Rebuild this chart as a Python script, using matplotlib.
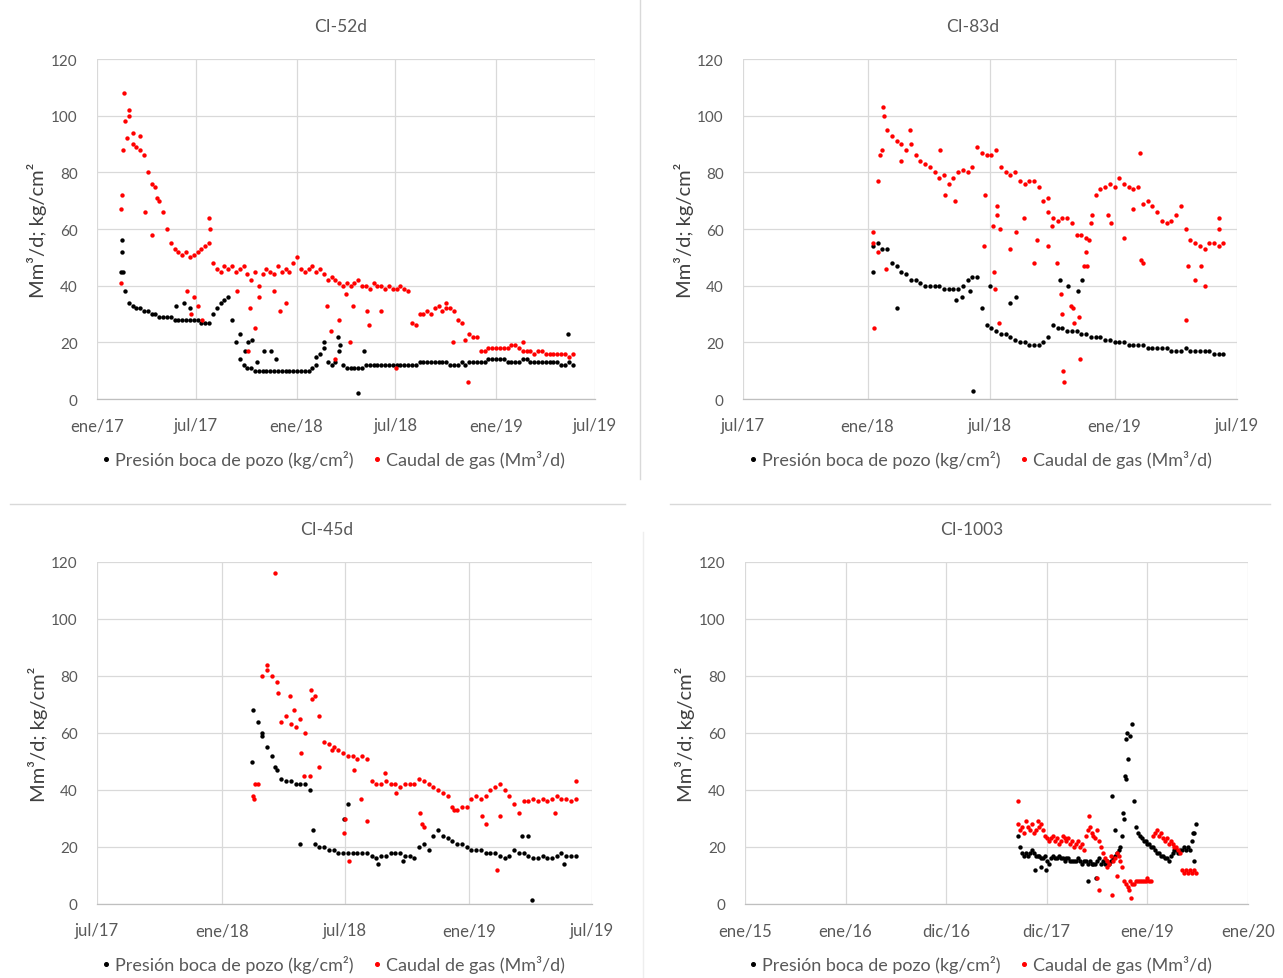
import matplotlib.pyplot as plt
from matplotlib.lines import Line2D
import pandas as pd

plt.rcParams['font.family'] = ['Lato', 'DejaVu Sans']

# ---------------------------------------------------------------
# data: weekly readings + scattered odd days
# ---------------------------------------------------------------

# CI-52d, weekly from 2017-02-14
ci52_start = '2017-02-14'
ci52_pres = [45, 38, 34, 33, 32, 32, 31, 31, 30, 30, 29, 29, 29, 29, 28, 28,
             28, 28, 28, 28, 28, 27, 27, 27, 30, 32, 34, 35, 36, 28, 20, 14,
             12, 11, 11, 10, 10, 10, 10, 10, 10, 10, 10, 10, 10, 10, 10, 10,
             10, 10, 11, 12, 16, 18, 13, 12, 13, 17, 12, 11, 11, 11, 11, 11,
             12, 12, 12, 12, 12, 12, 12, 12, 12, 12, 12, 12, 12, 12, 13, 13,
             13, 13, 13, 13, 13, 13, 12, 12, 12, 13, 12, 13, 13, 13, 13, 13,
             14, 14, 14, 14, 14, 13, 13, 13, 13, 14, 14, 13, 13, 13, 13, 13,
             13, 13, 13, 12, 12, 13, 12]
ci52_gas = [41, 98, 100, 90, 89, 88, 86, 80, 76, 75, 70, 66, 60, 55, 53, 52,
            51, 52, 50, 51, 52, 53, 54, 55, 48, 46, 45, 47, 46, 47, 45, 46,
            47, 44, 42, 45, 40, 44, 46, 45, 44, 47, 45, 46, 45, 48, 50, 46,
            45, 46, 47, 45, 46, 44, 42, 43, 42, 41, 40, 41, 40, 41, 42, 40,
            40, 39, 41, 40, 40, 39, 40, 39, 39, 40, 39, 38, 27, 26, 30, 30,
            31, 30, 32, 33, 31, 32, 32, 31, 28, 27, 21, 23, 22, 22, 17, 17,
            18, 18, 18, 18, 18, 18, 19, 19, 18, 17, 17, 17, 16, 17, 17, 16,
            16, 16, 16, 16, 16, 15, 16]
ci52_pres_xd = ['2017-02-15', '2017-02-16', '2017-02-18', '2017-05-25', '2017-06-10',
                '2017-06-20', '2017-09-20', '2017-09-28', '2017-10-05', '2017-10-12',
                '2017-10-20', '2017-11-02', '2017-11-15', '2017-11-25', '2018-02-05',
                '2018-02-20', '2018-03-18', '2018-03-22', '2018-04-23', '2018-05-05',
                '2019-05-12']
ci52_pres_xv = [56, 52, 45, 33, 34, 32, 23, 17, 20, 21, 13, 17, 17, 14, 15,
                20, 22, 19, 2, 17, 23]
ci52_gas_xd = ['2017-02-14', '2017-02-15', '2017-02-17', '2017-02-19', '2017-02-24',
               '2017-03-01', '2017-03-08', '2017-03-20', '2017-03-30', '2017-04-12',
               '2017-04-20', '2017-06-15', '2017-06-22', '2017-06-28', '2017-07-05',
               '2017-07-12', '2017-07-24', '2017-07-27', '2017-09-15', '2017-10-08',
               '2017-10-04', '2017-10-25', '2017-10-17', '2017-11-20', '2017-12-01',
               '2017-12-12', '2018-02-25', '2018-03-05', '2018-03-12', '2018-03-20',
               '2018-04-01', '2018-04-08', '2018-04-15', '2018-05-10', '2018-05-13',
               '2018-06-05', '2018-07-02', '2018-10-02', '2018-10-15', '2018-11-10',
               '2019-02-20']
ci52_gas_xv = [67, 72, 88, 108, 92, 102, 94, 93, 66, 58, 71, 38, 30, 36, 33,
               28, 64, 60, 38, 32, 17, 36, 25, 38, 31, 34, 33, 24, 14, 28,
               37, 20, 33, 31, 26, 31, 11, 34, 20, 6, 20]

# CI-83d, weekly from 2018-01-09
ci83_start = '2018-01-09'
ci83_pres = [54, 55, 53, 53, 48, 47, 45, 44, 42, 42, 41, 40, 40, 40, 40, 39,
             39, 39, 39, 40, 42, 43, 43, 32, 26, 25, 24, 23, 23, 22, 21, 20,
             20, 19, 19, 19, 20, 22, 26, 25, 25, 24, 24, 24, 23, 23, 22, 22,
             22, 21, 21, 20, 20, 20, 19, 19, 19, 19, 18, 18, 18, 18, 18, 17,
             17, 17, 18, 17, 17, 17, 17, 17, 16, 16, 16]
ci83_gas = [55, 52, 88, 95, 93, 91, 90, 88, 90, 86, 84, 83, 82, 80, 78, 79,
            76, 78, 80, 81, 80, 82, 89, 87, 86, 86, 88, 82, 80, 79, 80, 77,
            76, 77, 77, 75, 70, 66, 64, 63, 64, 64, 62, 58, 58, 57, 62, 72,
            74, 75, 76, 75, 78, 76, 75, 74, 75, 69, 70, 68, 66, 63, 62, 63,
            65, 68, 60, 56, 55, 54, 53, 55, 55, 54, 55]
ci83_pres_xd = ['2018-01-09', '2018-02-14', '2018-05-12', '2018-05-20', '2018-06-01',
                '2018-06-06', '2018-07-01', '2018-07-31', '2018-08-08', '2018-10-12',
                '2018-10-25', '2018-11-08', '2018-11-14']
ci83_pres_xv = [45, 32, 35, 36, 38, 3, 40, 34, 36, 42, 40, 38, 42]
ci83_gas_xd = ['2018-01-09', '2018-01-11', '2018-01-16', '2018-01-20', '2018-01-24',
               '2018-01-26', '2018-01-29', '2018-02-20', '2018-03-05', '2018-04-18',
               '2018-04-25', '2018-05-10', '2018-06-22', '2018-06-24', '2018-07-06',
               '2018-07-07', '2018-07-08', '2018-07-11', '2018-07-12', '2018-07-14',
               '2018-07-16', '2018-07-31', '2018-08-08', '2018-08-20', '2018-09-04',
               '2018-09-08', '2018-09-24', '2018-09-25', '2018-10-01', '2018-10-08',
               '2018-10-14', '2018-10-16', '2018-10-17', '2018-10-18', '2018-10-29',
               '2018-10-31', '2018-11-02', '2018-11-10', '2018-11-11', '2018-11-17',
               '2018-11-20', '2018-11-22', '2018-11-24', '2018-11-28', '2018-12-22',
               '2018-12-27', '2019-01-15', '2019-01-29', '2019-02-08', '2019-02-09',
               '2019-02-12', '2019-04-17', '2019-04-20', '2019-04-30', '2019-05-09',
               '2019-05-15', '2019-06-04', '2019-06-05']
ci83_gas_xv = [59, 25, 77, 86, 103, 100, 46, 84, 95, 88, 72, 70, 54, 72, 61,
               45, 39, 68, 65, 27, 60, 53, 59, 64, 48, 56, 54, 71, 61, 48,
               37, 30, 10, 6, 33, 32, 27, 29, 14, 47, 52, 47, 56, 65, 65,
               62, 57, 67, 87, 49, 48, 28, 47, 42, 47, 40, 64, 60]

# CI-45d, weekly from 2018-02-16
ci45_start = '2018-02-16'
ci45_pres = [68, 64, 60, 55, 52, 47, 44, 43, 43, 42, 42, 42, 40, 21, 20, 20,
             19, 19, 18, 18, 18, 18, 18, 18, 18, 17, 16, 17, 17, 18, 18, 18,
             17, 17, 16, 20, 21, 19, 24, 26, 24, 23, 22, 21, 21, 20, 19, 19,
             19, 18, 18, 18, 17, 16, 17, 19, 18, 18, 17, 16, 16, 17, 16, 16,
             17, 18, 17, 17, 17]
ci45_gas = [38, 42, 80, 82, 80, 78, 64, 66, 63, 62, 65, 60, 45, 73, 66, 57,
            56, 55, 54, 53, 52, 52, 51, 52, 51, 43, 42, 42, 43, 42, 42, 41,
            42, 42, 42, 44, 43, 42, 41, 40, 39, 38, 34, 33, 34, 34, 37, 38,
            37, 38, 40, 41, 42, 40, 38, 35, 32, 36, 36, 37, 36, 37, 36, 37,
            38, 37, 37, 36, 37]
ci45_pres_xd = ['2018-02-14', '2018-03-02', '2018-03-20', '2018-04-26', '2018-05-15',
                '2018-06-30', '2018-07-06', '2018-08-20', '2018-09-25', '2019-03-20',
                '2019-03-28', '2019-04-04', '2019-05-20']
ci45_pres_xv = [50, 59, 48, 21, 26, 30, 35, 14, 15, 24, 24, 1.5, 14]
ci45_gas_xd = ['2018-02-17', '2018-02-19', '2018-03-08', '2018-03-21', '2018-03-25',
               '2018-04-12', '2018-04-18', '2018-04-28', '2018-05-03', '2018-05-12',
               '2018-05-14', '2018-05-25', '2018-06-12', '2018-06-30', '2018-07-02',
               '2018-07-08', '2018-07-15', '2018-07-25', '2018-08-03', '2018-08-30',
               '2018-09-15', '2018-10-20', '2018-10-23', '2018-10-26', '2018-12-10',
               '2019-01-20', '2019-01-25', '2019-02-11', '2019-02-15', '2019-05-08',
               '2019-06-08']
ci45_gas_xv = [37, 42, 84, 116, 74, 73, 68, 53, 45, 75, 72, 48, 54, 25, 30,
               15, 47, 37, 29, 46, 39, 32, 28, 27, 33, 31, 28, 12, 31, 32, 43]

# CI-1003, weekly from 2017-09-19
ci1003_start = '2017-09-19'
ci1003_pres = [24, 20, 18, 17, 18, 17, 18, 19, 18, 17, 17, 17, 16, 16, 17, 15,
               14, 16, 17, 16, 16, 17, 16, 16, 15, 16, 16, 15, 15, 15, 15, 16,
               15, 14, 15, 15, 14, 15, 14, 14, 14, 15, 16, 14, 15, 14, 15, 14,
               15, 16, 17, 18, 19, 20, 24, 30, 44, 51, 59, 63, 36, 27, 25, 24,
               23, 22, 22, 21, 21, 20, 20, 19, 18, 18, 17, 17, 16, 16, 15, 17,
               18, 19, 19, 18, 19, 19, 20, 19, 20, 19, 22, 25, 28]
ci1003_gas = [28, 26, 27, 25, 29, 27, 26, 28, 25, 26, 29, 27, 28, 26, 24, 23,
              22, 23, 24, 22, 23, 21, 22, 24, 23, 22, 23, 21, 22, 20, 21, 22,
              20, 21, 19, 24, 26, 27, 25, 24, 23, 26, 22, 20, 18, 16, 15, 14,
              17, 15, 16, 18, 17, 15, 13, 8, 7, 6, 8, 7, 7, 8, 8, 8,
              8, 8, 8, 9, 8, 8, 24, 25, 26, 24, 25, 23, 22, 23, 21, 22,
              21, 20, 20, 19, 18, 12, 11, 12, 11, 12, 11, 12, 11]
ci1003_pres_xd = ['2017-11-20', '2017-12-10', '2017-12-28', '2018-05-30', '2018-06-28',
                  '2018-08-25', '2018-09-05', '2018-10-04', '2018-10-12', '2018-10-15',
                  '2018-10-18', '2019-06-15', '2019-06-20']
ci1003_pres_xv = [12, 13, 12, 8, 9, 38, 26, 32, 45, 58, 60, 25, 15]
ci1003_gas_xd = ['2017-09-19', '2018-06-01', '2018-07-01', '2018-07-08', '2018-08-07',
                 '2018-08-25', '2018-09-11', '2018-10-25', '2018-11-04']
ci1003_gas_xv = [36, 31, 9, 5, 13, 3, 10, 5, 2]

# axis ticks per chart
ticks_52 = ['2017-01-01', '2017-07-01', '2018-01-01', '2018-07-01', '2019-01-01', '2019-07-01']
labels_52 = ['ene/17', 'jul/17', 'ene/18', 'jul/18', 'ene/19', 'jul/19']
ticks_83 = ['2017-07-01', '2018-01-01', '2018-07-01', '2019-01-01', '2019-07-01']
labels_83 = ['jul/17', 'ene/18', 'jul/18', 'ene/19', 'jul/19']
ticks_1003 = ['2015-01-01', '2016-01-01', '2016-12-31', '2017-12-31', '2019-01-01', '2020-01-01']
labels_1003 = ['ene/15', 'ene/16', 'dic/16', 'dic/17', 'ene/19', 'ene/20']

pres_label = 'Presión boca de pozo (kg/cm²)'
gas_label = 'Caudal de gas (Mm³/d)'
y_label = 'Mm³/d; kg/cm²'

# ---------------------------------------------------------------
txtcol = '#595959'
gridcol = '#d9d9d9'
msize = 10


def draw_panel(ax, title, start, pres, gas, pxd, pxv, gxd, gxv, ticks, labels,
               title_x, leg_x):
    wk_p = pd.date_range(start, periods=len(pres), freq='7D')
    wk_g = pd.date_range(start, periods=len(gas), freq='7D')
    ax.scatter(wk_p, pres, s=msize, color='black', linewidths=0, zorder=3)
    ax.scatter(pd.to_datetime(pxd), pxv, s=msize, color='black', linewidths=0, zorder=3)
    ax.scatter(wk_g, gas, s=msize, color='#ff0000', linewidths=0, zorder=4)
    ax.scatter(pd.to_datetime(gxd), gxv, s=msize, color='#ff0000', linewidths=0, zorder=4)

    tk = pd.to_datetime(ticks)
    ax.set_xlim(tk[0], tk[-1])
    ax.set_xticks(tk)
    ax.set_xticklabels(labels)
    ax.set_ylim(0, 120)
    ax.set_yticks(range(0, 121, 20))
    ax.grid(True, color=gridcol, linewidth=0.9)
    ax.set_axisbelow(True)
    for s in ['top', 'right', 'left']:
        ax.spines[s].set_visible(False)
    ax.spines['bottom'].set_color('#bfbfbf')
    ax.spines['bottom'].set_linewidth(0.9)
    ax.tick_params(axis='x', length=0, labelsize=12, labelcolor=txtcol, pad=13)
    ax.tick_params(axis='y', length=0, labelsize=11, labelcolor=txtcol, pad=14)

    ax.set_ylabel(y_label, fontsize=14.5, color='#404040')
    ax.yaxis.set_label_coords(-0.10, 0.5)
    ax.text(title_x, 1.097, title, transform=ax.transAxes, ha='center',
            va='center', fontsize=12.5, color=txtcol)

    h = [Line2D([], [], marker='o', ls='none', color='black', markersize=2.6),
         Line2D([], [], marker='o', ls='none', color='#ff0000', markersize=2.6)]
    ax.legend(h, [pres_label, gas_label], loc='center', bbox_to_anchor=(leg_x, -0.176),
              ncol=2, frameon=False, fontsize=13, labelcolor=txtcol,
              handlelength=0.6, handletextpad=0.2, columnspacing=1.0)


fig = plt.figure(figsize=(12.83, 9.79), dpi=100)
W, H = 1283, 979


def axes_px(x0, x1, y0, y1):
    return fig.add_axes([x0 / W, 1 - y1 / H, (x1 - x0) / W, (y1 - y0) / H])


ax1 = axes_px(97, 595, 60, 400)
ax2 = axes_px(743, 1237, 60, 400)
ax3 = axes_px(97, 592, 563, 905)
ax4 = axes_px(745, 1248, 563, 905)

draw_panel(ax1, 'CI-52d', ci52_start, ci52_pres, ci52_gas, ci52_pres_xd, ci52_pres_xv,
           ci52_gas_xd, ci52_gas_xv, ticks_52, labels_52, 0.49, 0.474)
draw_panel(ax2, 'CI-83d', ci83_start, ci83_pres, ci83_gas, ci83_pres_xd, ci83_pres_xv,
           ci83_gas_xd, ci83_gas_xv, ticks_83, labels_83, 0.464, 0.48)
draw_panel(ax3, 'CI-45d', ci45_start, ci45_pres, ci45_gas, ci45_pres_xd, ci45_pres_xv,
           ci45_gas_xd, ci45_gas_xv, ticks_83, labels_83, 0.465, 0.477)
draw_panel(ax4, 'CI-1003', ci1003_start, ci1003_pres, ci1003_gas, ci1003_pres_xd,
           ci1003_pres_xv, ci1003_gas_xd, ci1003_gas_xv, ticks_1003, labels_1003,
           0.451, 0.467)

# thin borders between the four chart boxes
sep = dict(color='#d9d9d9', linewidth=1.0)
fig.add_artist(Line2D([640 / W, 640 / W], [1, 1 - 480 / H], **sep))
fig.add_artist(Line2D([10 / W, 625 / W], [1 - 505 / H, 1 - 505 / H], **sep))
fig.add_artist(Line2D([670 / W, 1270 / W], [1 - 505 / H, 1 - 505 / H], **sep))
fig.add_artist(Line2D([643 / W, 643 / W], [1 - 533 / H, 0], color='#eeeeee', linewidth=1.0))

fig.savefig('out.png', dpi=100)
